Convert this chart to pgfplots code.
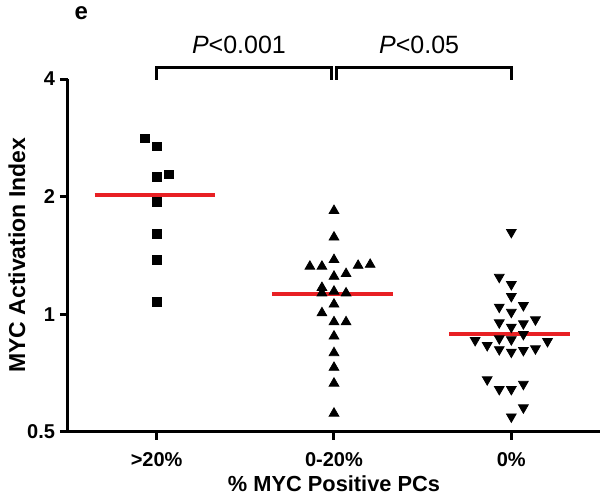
\documentclass[border=0pt]{standalone}
\usepackage{fontspec}
\setmainfont{Liberation Sans}
\usepackage{pgfplots}
\pgfplotsset{compat=1.18}
\definecolor{medred}{RGB}{232,32,36}
\begin{document}
\begin{tikzpicture}
\useasboundingbox (0,0) rectangle (300.5pt,246.5pt);
\begin{axis}[
  at={(34pt,30.5pt)}, anchor=south west,
  scale only axis=true, width=266pt, height=176.5pt,
  ymode=log, log basis y=2,
  xmin=-0.5, xmax=2.5, ymin=0.5, ymax=4,
  enlargelimits=false,
  axis x line=bottom, axis y line=left,
  axis line style={-, line width=1.5pt},
  every tick/.style={black, line width=1.5pt},
  tick align=outside, major tick length=4pt,
  xtick={0,1,2}, xticklabels={>20\%,0-20\%,0\%},
  ytick={0.5,1,2,4}, yticklabels={0.5,1,2,4},
  minor ytick={},
  xticklabel style={font=\fontsize{10}{12}\selectfont\bfseries, yshift=-3pt},
  yticklabel style={font=\fontsize{10}{12}\selectfont\bfseries, xshift=1pt},
  xlabel={\% MYC Positive PCs},
  ylabel={MYC Activation Index},
  xlabel style={at={(rel axis cs:0.5,-0.146)}, anchor=center, font=\fontsize{10.9}{13}\selectfont\bfseries},
  ylabel style={at={(rel axis cs:-0.096,0.501)}, anchor=center, rotate=0, font=\fontsize{11.5}{13}\selectfont\bfseries},
  clip=false,
]
% >20%
\addplot[only marks, mark=square*, mark size=2.2pt, black] coordinates {
  (-0.068,2.82) (0,2.69) (0,2.25) (0.068,2.28) (0,1.94) (0,1.61) (0,1.38) (0,1.075)
};
% 0-20%
\addplot[only marks, mark=triangle*, mark size=2.8pt, black] coordinates {
  (1,1.842) (1,1.575) (1,1.379) (0.864,1.326) (0.932,1.326) (1.136,1.333) (1.204,1.341)
  (1,1.250) (1.068,1.270) (0.932,1.170) (0.932,1.133) (1,1.145) (1.068,1.133)
  (1,1.061) (0.932,1.008) (1,0.956) (1.068,0.956) (1,0.879) (1,0.797) (1,0.731)
  (1,0.666) (1,0.558)
};
% 0%
\addplot[only marks, mark=triangle*, mark size=2.8pt, mark options={rotate=180}, black] coordinates {
  (2,1.622) (1.932,1.245) (2,1.193) (2,1.112) (1.932,1.044) (2,1.013) (2.068,1.054)
  (2.136,0.969) (1.932,0.952) (2,0.928) (2.068,0.947) (2.068,0.889) (2,0.862)
  (1.932,0.867) (1.796,0.858) (1.864,0.833) (2.204,0.853) (1.932,0.813) (2,0.801)
  (2.068,0.809) (2.136,0.817) (1.864,0.681) (1.932,0.643) (2,0.643) (2.068,0.663)
  (2.068,0.577) (2,0.547)
};
% medians
\addplot[medred, line width=2pt] coordinates {(-0.35,2.02) (0.33,2.02)};
\addplot[medred, line width=2pt] coordinates {(0.65,1.13) (1.33,1.13)};
\addplot[medred, line width=2pt] coordinates {(1.65,0.893) (2.33,0.893)};
% brackets
\draw[line width=1.5pt] (axis cs:0,3.98) -- (axis cs:0,4.29) -- (axis cs:0.985,4.29) -- (axis cs:0.985,3.98);
\draw[line width=1.5pt] (axis cs:1.015,3.98) -- (axis cs:1.015,4.29) -- (axis cs:2,4.29) -- (axis cs:2,3.98);
\node[font=\fontsize{12.5}{14}\selectfont] at (axis cs:0.464,4.88) {\textit{P}<0.001};
\node[font=\fontsize{12.5}{14}\selectfont] at (axis cs:1.48,4.88) {\textit{P}<0.05};
\node[font=\fontsize{12}{14}\selectfont\bfseries] at (rel axis cs:0.025,1.187) {e};
\end{axis}
\end{tikzpicture}
\end{document}
